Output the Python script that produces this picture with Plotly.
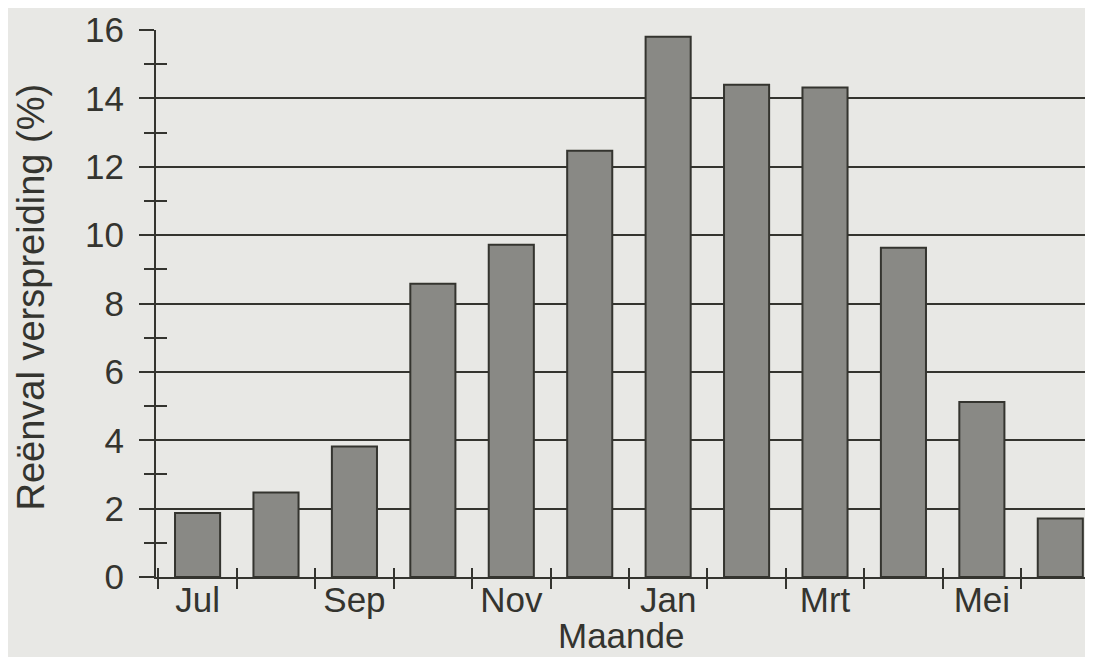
import plotly.graph_objects as go

# Maandelikse reënval verspreiding (%)
months = ['Jul', 'Aug', 'Sep', 'Okt', 'Nov', 'Des', 'Jan', 'Feb', 'Mrt', 'Apr', 'Mei', 'Jun']
rain_pct = [1.87, 2.47, 3.82, 8.58, 9.72, 12.47, 15.8, 14.4, 14.32, 9.63, 5.12, 1.71]
month_labels = ['Jul', '', 'Sep', '', 'Nov', '', 'Jan', '', 'Mrt', '', 'Mei', '']
y_ticks = [0, 2, 4, 6, 8, 10, 12, 14, 16]

ink = '#34342f'
paper = '#e8e8e5'
font = dict(family='Liberation Sans, Arial, sans-serif', size=35, color=ink)

fig = go.Figure()
fig.add_trace(go.Bar(
    x=months, y=rain_pct,
    marker=dict(color='#898985', line=dict(color=ink, width=2)),
    hoverinfo='x+y'
))
# invisible copy so the overlay axes (inside ticks) have something to hang on
fig.add_trace(go.Bar(
    x=months, y=rain_pct, xaxis='x2', yaxis='y2',
    opacity=0, hoverinfo='skip', showlegend=False
))

# page body has an 8px margin, so the figure is a bit smaller than the window
fig.update_layout(
    width=1077, height=649,
    paper_bgcolor=paper, plot_bgcolor=paper,
    font=font,
    showlegend=False,
    bargap=0.425,
    margin=dict(l=148, r=0, t=22, b=80),
    xaxis=dict(
        type='category', range=[-0.53, 11.315],
        tickvals=months, ticktext=month_labels,
        tickson='boundaries', ticks='outside', ticklen=10, tickwidth=2, tickcolor=ink,
        ticklabelstandoff=-9,
        showline=True, linecolor=ink, linewidth=2,
        showgrid=False, zeroline=False,
    ),
    yaxis=dict(
        range=[0, 16], tickvals=y_ticks,
        ticks='outside', ticklen=15, tickwidth=2, tickcolor=ink,
        ticklabelstandoff=8,
        showline=True, linecolor=ink, linewidth=2,
        showgrid=True, gridcolor=ink, gridwidth=2, zeroline=False,
        minor=dict(dtick=1, ticks='outside', ticklen=10, tickwidth=2, tickcolor=ink, showgrid=False),
    ),
    xaxis2=dict(
        type='category', overlaying='x', matches='x',
        tickson='boundaries', ticks='inside', ticklen=9, tickwidth=2, tickcolor=ink,
        showticklabels=False, showline=False, showgrid=False, zeroline=False,
    ),
    yaxis2=dict(
        overlaying='y', matches='y', side='left',
        ticks='', showticklabels=False, showline=False, showgrid=False, zeroline=False,
        minor=dict(dtick=1, ticks='inside', ticklen=11, tickwidth=2, tickcolor=ink, showgrid=False),
    ),
)

# axis titles as annotations so they sit where the original has them
fig.add_annotation(
    text='Maande', xref='paper', yref='paper', x=0.5, y=0,
    xanchor='center', yanchor='top', yshift=-37, showarrow=False,
    font=dict(size=35),
)
fig.add_annotation(
    text='Reënval verspreiding (%)', xref='paper', yref='paper', x=0, y=0.5,
    xanchor='left', yanchor='middle', xshift=-149, yshift=6, textangle=-90,
    showarrow=False, font=dict(size=38),
)

fig.write_html('out.html')
